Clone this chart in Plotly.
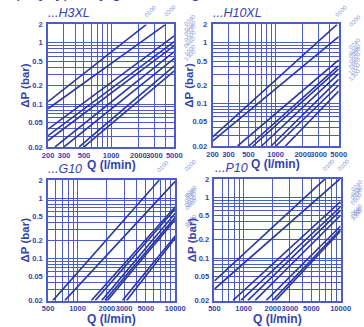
import numpy as np
import plotly.graph_objects as go

# ---------------- data ----------------
panel_titles = ["...H3XL", "...H10XL", "...G10", "...P10"]
header_text = "Δp by type, by grade, using"

# each line: start (Q, dP) -> end (Q, dP)
h3_q_start = [200, 200, 200, 200, 200, 239, 300, 442, 500]
h3_p_start = [0.110, 0.084, 0.039, 0.0306, 0.0255, 0.02, 0.02, 0.02, 0.02]
h3_q_end = [2456, 4011, 5000, 5000, 5000, 5000, 5000, 5000, 5000]
h3_p_end = [2, 2, 1.3, 1.05, 0.9, 0.72, 0.56, 0.42, 0.35]

h10_q_start = [200, 200, 380, 505, 561, 699, 892, 1008, 1286]
h10_p_start = [0.028, 0.024, 0.02, 0.02, 0.02, 0.02, 0.02, 0.02, 0.02]
h10_q_end = [4800, 5000, 5000, 5000, 5000, 5000, 5000, 5000, 5000]
h10_p_end = [2, 1.26, 0.52, 0.42, 0.37, 0.31, 0.25, 0.2, 0.16]

g10_q_start = [560, 740, 1386, 1517, 1766, 1903, 2022, 2884, 3178]
g10_p_start = [0.02, 0.02, 0.02, 0.02, 0.02, 0.02, 0.02, 0.02, 0.02]
g10_q_end = [6870, 10000, 10000, 10000, 10000, 10000, 10000, 10000, 10000]
g10_p_end = [2, 1.9, 0.72, 0.66, 0.56, 0.48, 0.44, 0.236, 0.217]

p10_q_start = [500, 500, 774, 934, 1102, 1310, 1706, 1983, 2137]
p10_p_start = [0.042, 0.031, 0.02, 0.02, 0.02, 0.02, 0.02, 0.02, 0.02]
p10_q_end = [6860, 9800, 10000, 10000, 10000, 10000, 10000, 10000, 10000]
p10_p_end = [2, 2, 0.85, 0.70, 0.61, 0.506, 0.337, 0.298, 0.28]

line_labels = ["0100", "0200", "0240", "0280", "0330", "0500", "0660", "1000", "1300"]

x_ticks_top = [200, 300, 500, 1000, 2000, 3000, 5000]
x_ticks_bottom = [500, 1000, 2000, 3000, 5000, 10000]
y_ticks = [0.02, 0.05, 0.1, 0.2, 0.5, 1, 2]
y_tick_text = ["0.02", "0.05", "0.1", "0.2", "0.5", "1", "2"]

x_grid_top = [200, 300, 400, 500, 600, 700, 800, 900, 1000, 2000, 3000, 4000, 5000]
x_grid_bottom = [500, 600, 700, 800, 900, 1000, 2000, 3000, 4000, 5000, 6000,
                 7000, 8000, 9000, 10000]
y_grid = [0.02, 0.03, 0.04, 0.05, 0.06, 0.07, 0.08, 0.09, 0.1, 0.2, 0.3, 0.4,
          0.5, 0.6, 0.7, 0.8, 0.9, 1, 2]

# ---------------- layout helpers ----------------
W, H = 364, 327
def fx(px):
    return px / W
def fy(py):
    return 1 - py / H

# pixel boxes: left, right, top, bottom
boxes = [(44, 176, 21, 147), (216, 348, 21, 146), (44, 177, 181, 305), (218, 350, 180, 305)]
x_ranges = [(200, 5000), (200, 5000), (500, 10000), (500, 10000)]

panels = [
    (h3_q_start, h3_p_start, h3_q_end, h3_p_end),
    (h10_q_start, h10_p_start, h10_q_end, h10_p_end),
    (g10_q_start, g10_p_start, g10_q_end, g10_p_end),
    (p10_q_start, p10_p_start, p10_q_end, p10_p_end),
]

GRID = "#4c5dca"
LINE = "#2a36a2"
TXT = "#3443ae"
LBL = "#8a97da"
NARROW = "Liberation Sans Narrow, Arial Narrow, Liberation Sans"

fig = go.Figure()
annotations = []

for i, (qs, ps, qe, pe) in enumerate(panels):
    n = "" if i == 0 else str(i + 1)
    xa, ya = "x" + n, "y" + n
    for k in range(len(qs)):
        fig.add_trace(go.Scatter(
            x=[qs[k], qe[k]], y=[ps[k], pe[k]], mode="lines",
            line=dict(color=LINE, width=1.6), xaxis=xa, yaxis=ya,
            showlegend=False, hoverinfo="skip", cliponaxis=True))
        # end label
        at_top = pe[k] >= 1.95
        annotations.append(dict(
            x=np.log10(qe[k]), y=np.log10(pe[k]), xref=xa, yref=ya,
            text=line_labels[k], showarrow=False, textangle=-45,
            font=dict(size=6, color=LBL, family="Liberation Sans"),
            xshift=6 if not at_top else 4, yshift=4 if at_top else 6,
            xanchor="left" if not at_top else "center", yanchor="bottom"))

    l, r, t, b = boxes[i]
    x0, x1 = x_ranges[i]
    top = i < 2
    fig.update_layout(**{
        "xaxis" + n: dict(
            type="log", range=[np.log10(x0), np.log10(x1)],
            domain=[fx(l), fx(r)], anchor=ya,
            tickvals=x_ticks_top if top else x_ticks_bottom,
            ticktext=[str(v) for v in (x_ticks_top if top else x_ticks_bottom)],
            tickfont=dict(size=7.5, color=TXT, family=NARROW, weight="bold"),
            tickangle=0, ticks="", ticklabelstandoff=0,
            showgrid=True, gridcolor=GRID, gridwidth=1,
            minor=dict(tickvals=x_grid_top if top else x_grid_bottom,
                       showgrid=True, gridcolor=GRID, gridwidth=1, ticks=""),
            showline=True, mirror=True, linecolor=GRID, linewidth=1.6,
            zeroline=False, fixedrange=True),
        "yaxis" + n: dict(
            type="log", range=[np.log10(0.02), np.log10(2)],
            domain=[fy(b), fy(t)], anchor=xa,
            tickvals=y_ticks, ticktext=y_tick_text,
            tickfont=dict(size=7.5, color=TXT, family=NARROW, weight="bold"),
            ticks="", ticklabelstandoff=2,
            showgrid=True, gridcolor=GRID, gridwidth=1,
            minor=dict(tickvals=y_grid, showgrid=True, gridcolor=GRID,
                       gridwidth=1, ticks=""),
            showline=True, mirror=True, linecolor=GRID, linewidth=1.6,
            zeroline=False, fixedrange=True),
    })

    # panel title
    annotations.append(dict(
        x=fx(l - 2), y=fy(t - 2), xref="paper", yref="paper", text=panel_titles[i],
        showarrow=False, xanchor="left", yanchor="bottom",
        font=dict(size=12.5, color=TXT, family="Liberation Sans", style="italic")))
    # axis titles
    annotations.append(dict(
        x=fx((l + r) / 2), y=fy(b + (9 if top else 10)), xref="paper", yref="paper",
        text="Q (l/min)", showarrow=False, xanchor="center", yanchor="top",
        font=dict(size=12, color=TXT, family=NARROW, weight="bold")))
    annotations.append(dict(
        x=fx(l - 24), y=fy((t + b) / 2), xref="paper", yref="paper", text="ΔP (bar)",
        showarrow=False, xanchor="center", yanchor="middle", textangle=-90,
        font=dict(size=11.5, color=TXT, family=NARROW, weight="bold")))

# header line, only its lowest part visible at the top edge
annotations.append(dict(
    x=fx(-2), y=fy(-1), xref="paper", yref="paper", text=header_text,
    showarrow=False, xanchor="left", yanchor="bottom",
    font=dict(size=16, color=TXT, family="Liberation Sans", style="italic")))

fig.update_layout(
    width=W, height=H, margin=dict(l=0, r=0, t=0, b=0),
    paper_bgcolor="white", plot_bgcolor="white",
    annotations=annotations, showlegend=False)

fig.write_html("out.html", config={"displayModeBar": False},
               post_script="document.body.style.margin='0';document.body.style.overflow='hidden';")
